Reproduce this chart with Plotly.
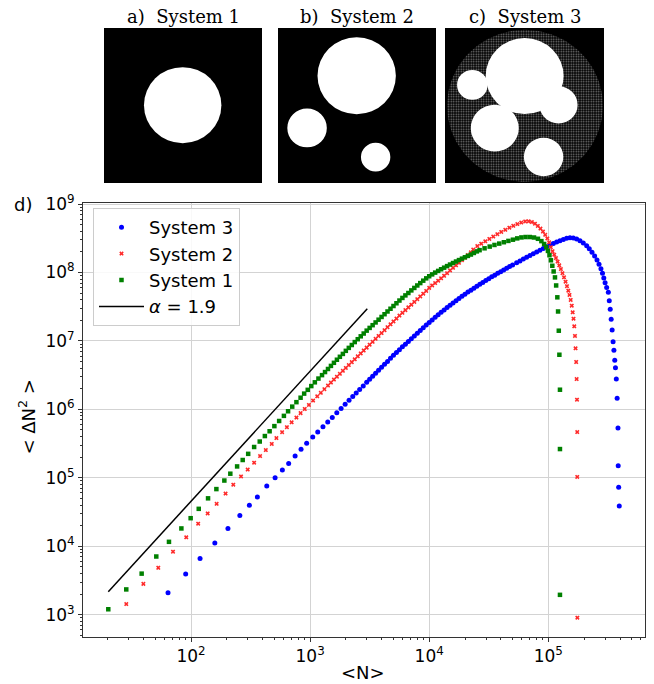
import numpy as np
import plotly.graph_objects as go

# ---------------- data ----------------
sys1_N = [20.2, 28.6, 38.5, 51.1, 65.3, 83.0, 99.3, 116.1, 139.0, 163.3, 190.5, 213.8, 243.8, 271.6, 302.0,
          338.8, 377.6, 416.9, 457.1,
          501.2, 549.5, 602.6, 653.1, 707.9, 767.4, 831.8, 891.3, 955.0, 1023, 1096, 1175,
          1259, 1334, 1413, 1496, 1585, 1679, 1778, 1884, 1995, 2113, 2239, 2371, 2512, 2661, 2818, 2985,
          3162, 3350, 3548, 3758, 3981, 4217, 4467, 4732, 5012, 5309, 5623, 5957, 6310, 6683, 7079, 7499,
          7943, 8414, 8913, 9441, 10000, 10590, 11220, 11890, 12590, 13340, 14130, 14960, 15850, 16790,
          17780, 18840, 19950, 21130, 22390, 23710, 25120,
          26490, 29170, 32210, 35320, 38730, 42360, 46240, 50470, 54830, 59430, 64420, 69980, 75860, 81850,
          87500, 92260, 95940, 99310, 102300, 105200, 108100, 110900, 113800, 116400, 119100, 120800,
          122500, 123900, 125300, 125300, 125300]
sys1_var = [1200, 2340, 3980, 7080, 11600, 18200, 25700, 35200, 50100, 68400, 91200, 114800, 146600, 182000,
            223900, 281800, 338800, 407400, 478600,
            568900, 676100, 803500, 937600, 1.096e6, 1.274e6, 1.479e6, 1.698e6, 1.928e6, 2.188e6, 2.483e6, 2.818e6,
            3.162e6, 3.508e6, 3.890e6, 4.315e6, 4.786e6, 5.309e6, 5.861e6, 6.457e6, 7.161e6, 7.907e6, 8.710e6,
            9.616e6, 1.059e7, 1.167e7, 1.282e7, 1.413e7, 1.549e7, 1.698e7, 1.862e7, 2.042e7, 2.239e7, 2.455e7,
            2.692e7, 2.951e7, 3.236e7, 3.548e7, 3.890e7, 4.246e7, 4.624e7, 5.012e7, 5.470e7, 5.943e7, 6.457e7,
            6.998e7, 7.586e7, 8.204e7, 8.810e7, 9.376e7, 9.954e7, 1.054e8, 1.114e8, 1.175e8, 1.239e8, 1.306e8,
            1.374e8, 1.445e8, 1.517e8, 1.592e8, 1.667e8, 1.746e8, 1.828e8, 1.928e8, 2.032e8,
            2.118e8, 2.254e8, 2.388e8, 2.523e8, 2.642e8, 2.767e8, 2.891e8, 3.013e8, 3.148e8, 3.251e8, 3.296e8,
            3.296e8, 3.243e8, 3.105e8, 2.871e8, 2.606e8, 2.344e8, 2.065e8, 1.786e8, 1.507e8, 1.253e8, 1.035e8,
            8.472e7, 6.457e7, 4.335e7, 2.692e7, 1.409e7, 6.281e6, 1.936e6, 2.630e5, 1950]

sys2_N = [28.6, 39.8, 53.1, 70.6, 91.2, 114.8, 138.0, 164.1, 195.0, 226.5, 263.0, 299.2, 338.8, 380.2, 424.6,
          476.4, 521.2, 582.1,
          638.3, 699.8, 767.4, 831.8, 901.6, 977.2, 1059, 1148, 1230, 1318,
          1413, 1496, 1585, 1679, 1778, 1884, 1995, 2113, 2239, 2371, 2512, 2661, 2818, 2985, 3162, 3350,
          3548, 3758, 3981, 4217, 4467, 4732, 5012, 5309, 5623, 5957, 6310, 6683, 7079, 7499, 7943, 8414,
          8913, 9441, 10000, 10590, 11220, 11890, 12590, 13340, 14130, 14960, 15850, 16790, 17780, 18840,
          19950, 21130, 22390, 23440,
          25350, 27350, 29580, 31990, 34510, 37330, 40270, 43550, 47100, 50820, 54950, 59290, 63970, 68390,
          72780, 77270, 81660, 85900, 90160, 94190, 98170, 101600,
          105000, 108600, 112200, 115900, 119700, 123600, 127600, 131500, 135500, 139600, 143500, 147200,
          150700, 154200, 157400, 160300, 162900, 165200, 167500, 169400, 171400, 173000, 174200, 175000,
          175000, 175400]
sys2_var = [1430, 2820, 4850, 8320, 13490, 21380, 30200, 41690, 58880, 79430, 104700, 131800, 166000, 207500,
            254100, 312600, 380200, 464500,
            549500, 645700, 758600, 881000, 1.012e6, 1.161e6, 1.343e6, 1.549e6, 1.746e6, 1.972e6,
            2.228e6, 2.466e6, 2.723e6, 3.006e6, 3.311e6, 3.656e6, 4.027e6, 4.436e6, 4.898e6, 5.395e6, 5.957e6,
            6.561e6, 7.244e6, 7.980e6, 8.810e6, 9.705e6, 1.072e7, 1.180e7, 1.303e7, 1.435e7, 1.585e7, 1.746e7,
            1.928e7, 2.123e7, 2.344e7, 2.570e7, 2.818e7, 3.090e7, 3.388e7, 3.715e7, 4.074e7, 4.467e7, 4.898e7,
            5.370e7, 5.957e7, 6.457e7, 6.998e7, 7.586e7, 8.222e7, 8.954e7, 9.772e7, 1.072e8, 1.169e8, 1.274e8,
            1.387e8, 1.514e8, 1.641e8, 1.799e8, 1.972e8, 2.163e8,
            2.427e8, 2.630e8, 2.851e8, 3.090e8, 3.350e8, 3.631e8, 3.917e8, 4.207e8, 4.508e8, 4.808e8, 5.105e8,
            5.370e8, 5.559e8, 5.598e8,
            5.458e8, 5.152e8, 4.786e8, 4.385e8, 3.963e8, 3.548e8, 3.141e8, 2.754e8,
            2.344e8, 2.042e8, 1.820e8, 1.622e8, 1.445e8, 1.274e8, 1.122e8, 9.772e7, 8.511e7, 7.328e7, 6.310e7,
            5.408e7,
            4.688e7, 3.963e7, 3.266e7, 2.618e7, 2.113e7, 1.633e7, 1.180e7, 7.798e6, 4.920e6, 2.773e6, 1.384e6,
            4.667e5, 1.028e5, 904]

sys3_N = [64.1, 90.2, 119.1, 158.5, 204.2, 257.0, 309.0, 360.6, 432.5, 508.2, 584.8, 660.7, 748.2, 839.5,
          935.4, 1052, 1159, 1282, 1406, 1535, 1675, 1820, 1968, 2123, 2280, 2438, 2606, 2793, 2985,
          3162, 3350, 3548, 3758, 3981, 4217, 4467, 4732, 5012, 5309, 5623, 5957, 6310, 6683, 7079, 7499,
          7943, 8414, 8913, 9441, 10000, 10590, 11220, 11890, 12590, 13340, 14130, 14960, 15850, 16790,
          17780, 18840, 19950, 21130, 22390, 23710, 25120, 26610, 28180, 29850, 31620, 33500, 35480, 37580,
          39810, 42170, 44670, 47320, 50120,
          54200, 57810, 61660, 65770, 70150, 74820, 79800, 85110, 90780, 96830, 103300, 110200, 117500,
          125300, 133700, 142600, 152100, 162200, 173000, 184500, 196800, 209900, 220800, 232800, 244900,
          256400, 266700, 276700, 285100, 292400, 299900, 309000, 319200, 325100, 331100, 337300, 343600,
          349900, 355600, 361400, 366400, 372400, 378400, 384600, 386400, 389900, 394500]
sys3_var = [2089, 3926, 6607, 11140, 18200, 28180, 39810, 52480, 75860, 100000, 130300, 162200, 208900, 260600,
            319900, 394500, 466700, 555900, 653100, 762100, 891300, 1.030e6, 1.186e6, 1.355e6, 1.538e6,
            1.730e6, 1.950e6, 2.203e6, 2.483e6,
            2.748e6, 3.041e6, 3.365e6, 3.724e6, 4.121e6, 4.550e6, 5.012e6, 5.559e6, 6.166e6, 6.776e6, 7.447e6,
            8.185e6, 8.974e6, 9.840e6, 1.079e7, 1.183e7, 1.297e7, 1.419e7, 1.556e7, 1.702e7, 1.862e7, 2.028e7,
            2.208e7, 2.404e7, 2.612e7, 2.831e7, 3.069e7, 3.319e7, 3.589e7, 3.873e7, 4.169e7, 4.487e7, 4.819e7,
            5.164e7, 5.521e7, 5.902e7, 6.310e7, 6.730e7, 7.161e7, 7.638e7, 8.128e7, 8.630e7, 9.141e7, 9.705e7,
            1.028e8, 1.089e8, 1.151e8, 1.219e8, 1.288e8,
            1.390e8, 1.476e8, 1.570e8, 1.667e8, 1.774e8, 1.879e8, 1.995e8, 2.118e8, 2.244e8, 2.377e8, 2.512e8,
            2.649e8, 2.780e8, 2.911e8, 3.034e8, 3.155e8, 3.221e8, 3.192e8, 3.083e8, 2.911e8, 2.692e8, 2.455e8,
            2.213e8, 1.968e8, 1.738e8, 1.521e8, 1.318e8, 1.135e8, 9.727e7, 8.279e7, 7.079e7, 6.026e7, 5.129e7,
            3.864e7, 2.891e7, 2.070e7, 1.442e7, 9.727e6, 7.295e6, 5.212e6, 4.064e6, 2.773e6, 1.449e6, 5.333e5,
            1.503e5, 7.278e4, 3.873e4]

fit_N = [20.2, 3020]
fit_var = [2170, 2.95e7]

series_names = ["System 3", "System 2", "System 1"]
fit_name = "<i>α</i> = 1.9"
panel_titles = ["a)  System 1", "b)  System 2", "c)  System 3"]

x_tick_vals = [1e2, 1e3, 1e4, 1e5]
x_tick_text = ["10<sup>2</sup>", "10<sup>3</sup>", "10<sup>4</sup>", "10<sup>5</sup>"]
y_tick_vals = [1e3, 1e4, 1e5, 1e6, 1e7, 1e8, 1e9]
y_tick_text = ["10<sup>3</sup>", "10<sup>4</sup>", "10<sup>5</sup>", "10<sup>6</sup>",
               "10<sup>7</sup>", "10<sup>8</sup>", "10<sup>9</sup>"]

assert len(sys1_N) == len(sys1_var)
assert len(sys2_N) == len(sys2_var)
assert len(sys3_N) == len(sys3_var)

# ---------------- figure ----------------
W, H = 654, 684
ML, MR, MT, MB = 83, 9, 28, 47
PW, PH = W - ML - MR, H - MT - MB


def px_x(p):
    return (p - ML) / PW


def px_y(p):
    return (H - MB - p) / PH


FONT = "DejaVu Sans"
fig = go.Figure()

fig.add_trace(go.Scatter(x=sys3_N, y=sys3_var, mode="markers", name=series_names[0], legendgroup="g3",
                         marker=dict(symbol="circle", size=5, color="#0000ff", line=dict(width=0))))
fig.add_trace(go.Scatter(x=sys2_N, y=sys2_var, mode="markers", name=series_names[1], legendgroup="g2",
                         marker=dict(symbol="x", size=4, color="#ff2a2a", line=dict(width=0))))
fig.add_trace(go.Scatter(x=sys1_N, y=sys1_var, mode="markers", name=series_names[2], legendgroup="g1",
                         marker=dict(symbol="square", size=4.5, color="#008000", line=dict(width=0))))
fig.add_trace(go.Scatter(x=fit_N, y=fit_var, mode="lines", name=fit_name, legendgroup="g0",
                         line=dict(color="black", width=1.5)))

# panel c speckled disk (texture only)
th = np.linspace(0, 2 * np.pi, 145)
fig.add_trace(go.Scatter(x=0.503 + 0.49 * np.cos(th), y=0.498 + 0.49 * np.sin(th), mode="lines",
                         line=dict(width=0), fill="toself", fillcolor="black",
                         fillpattern=dict(shape=".", fgcolor="white", bgcolor="black", size=2.5, solidity=0.35),
                         xaxis="x4", yaxis="y4", showlegend=False, hoverinfo="skip"))

minor_x = [m * 10 ** e for e in range(1, 6) for m in range(2, 10) if 12 < m * 10 ** e < 6.5e5]
minor_y = [m * 10 ** e for e in range(2, 9) for m in range(2, 10) if 470 < m * 10 ** e < 1.03e9]

axis_common = dict(type="log", showgrid=True, gridcolor="#d3d3d3", gridwidth=1, showline=True, mirror=True,
                   linecolor="#333333", linewidth=1, ticks="outside", ticklen=4, tickwidth=1, tickcolor="#333333",
                   tickfont=dict(family=FONT, size=17, color="black"), zeroline=False)

main_top = px_y(203)
fig.update_layout(
    width=W, height=H, margin=dict(l=ML, r=MR, t=MT, b=MB),
    paper_bgcolor="white", plot_bgcolor="white", hovermode=False,
    font=dict(family=FONT, size=17, color="black"),
    xaxis=dict(axis_common, range=[1.093, 5.812], domain=[0, 1], anchor="y",
               tickmode="array", tickvals=x_tick_vals, ticktext=x_tick_text,
               minor=dict(tickmode="array", tickvals=minor_x, ticks="outside", ticklen=2, tickcolor="#333333",
                          showgrid=False)),
    yaxis=dict(axis_common, range=[2.674, 9.015], domain=[0, main_top], anchor="x",
               tickmode="array", tickvals=y_tick_vals, ticktext=y_tick_text,
               minor=dict(tickmode="array", tickvals=minor_y, ticks="outside", ticklen=2, tickcolor="#333333",
                          showgrid=False)),
    legend=dict(x=px_x(93), y=px_y(208), xanchor="left", yanchor="top", bgcolor="rgba(255,255,255,0.85)",
                bordercolor="#cccccc", borderwidth=1, font=dict(family=FONT, size=18, color="black"),
                tracegroupgap=0, itemwidth=45),
)

# image panels
panel_px = [(104, 262), (278, 436), (445, 604)]
pan_y = [px_y(183), px_y(28)]
shapes = []
for i, (a, b) in enumerate(panel_px):
    k = i + 2
    fig.update_layout(**{
        f"xaxis{k}": dict(domain=[px_x(a), px_x(b)], range=[0, 1], visible=False, anchor=f"y{k}", fixedrange=True),
        f"yaxis{k}": dict(domain=pan_y, range=[0, 1], visible=False, anchor=f"x{k}", fixedrange=True),
    })
    shapes.append(dict(type="rect", xref=f"x{k}", yref=f"y{k}", x0=0, x1=1, y0=0, y1=1,
                       fillcolor="black", line=dict(width=0), layer="below"))

# white disks: (panel axis index, cx, cy, r)
disks = [
    (2, 0.498, 0.502, 0.245),
    (3, 0.498, 0.692, 0.248), (3, 0.184, 0.355, 0.125), (3, 0.618, 0.167, 0.093),
    (4, 0.501, 0.690, 0.245), (4, 0.172, 0.633, 0.096), (4, 0.714, 0.504, 0.120),
    (4, 0.313, 0.354, 0.151), (4, 0.620, 0.168, 0.124),
]
for k, cx, cy, r in disks:
    shapes.append(dict(type="circle", xref=f"x{k}", yref=f"y{k}", x0=cx - r, x1=cx + r, y0=cy - r, y1=cy + r,
                       fillcolor="white", line=dict(width=0), layer="above"))
fig.update_layout(shapes=shapes)

ann = []
for (a, b), t in zip(panel_px, panel_titles):
    ann.append(dict(text=t, x=px_x((a + b) / 2), y=px_y(16.5), xref="paper", yref="paper", showarrow=False,
                    xanchor="center", yanchor="middle", font=dict(family="DejaVu Serif", size=18, color="black")))
ann.append(dict(text="d)", x=px_x(22.5), y=px_y(204), xref="paper", yref="paper", showarrow=False,
                xanchor="center", yanchor="middle", font=dict(family=FONT, size=18, color="black")))
ann.append(dict(text="&lt;N&gt;", x=px_x(363), y=px_y(672), xref="paper", yref="paper", showarrow=False,
                xanchor="center", yanchor="middle", font=dict(family=FONT, size=18, color="black")))
ann.append(dict(text="&lt; ΔN<sup>2</sup> &gt;", x=px_x(27.5), y=px_y(417), xref="paper", yref="paper",
                showarrow=False, textangle=-90, xanchor="center", yanchor="middle",
                font=dict(family=FONT, size=18, color="black")))
fig.update_layout(annotations=ann)

fig.write_html("out.html", config={"displayModeBar": False})
